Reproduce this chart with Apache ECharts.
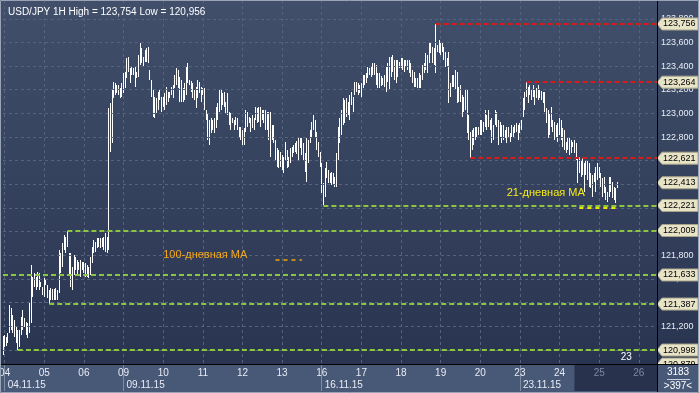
<!DOCTYPE html>
<html><head><meta charset="utf-8">
<script src="https://cdn.jsdelivr.net/npm/echarts@6/dist/echarts.min.js"></script>
<style>html,body{margin:0;padding:0;background:#34415e;}#c{width:699px;height:393px;}</style>
</head><body><div id="c"></div>
<script>
const titleText = 'USD/JPY 1H High = 123,754 Low = 120,956';
const dayLabels = ['04','05','06','09','10','11','12','13','16','17','18','19','20','23','24','25','26'];
const futureDays = ['25','26'];
const weekStartDays = ['04','09','16','23'];
const weekLabels = ['04.11.15','09.11.15','16.11.15','23.11.15'];
const footerTop = '3183';
const footerBottom = '>397<';
const visibleBars = 397;

const high = [
121.120,121.125,121.111,121.139,121.379,121.351,121.294,121.252,121.196,121.167,
121.167,121.280,121.337,121.266,121.238,121.224,121.407,121.717,121.619,121.647,
121.619,121.661,121.647,121.576,121.534,121.605,121.590,121.548,121.506,121.520,
121.511,121.511,121.520,121.506,121.845,121.816,121.901,121.971,121.957,122.009,
121.816,121.816,121.703,121.802,121.788,121.760,121.745,121.760,121.745,121.745,
121.731,121.717,121.703,121.788,121.872,121.929,121.915,121.943,121.943,121.943,
121.943,121.957,121.985,121.957,123.043,123.086,123.200,123.269,123.255,123.241,
123.241,123.213,123.255,123.340,123.354,123.466,123.480,123.382,123.396,123.382,
123.396,123.354,123.494,123.593,123.551,123.480,123.537,123.551,123.565,123.368,
123.283,123.198,123.142,123.128,123.184,123.198,123.142,123.142,123.170,123.227,
123.184,123.184,123.227,123.241,123.325,123.382,123.368,123.311,123.283,123.213,
123.255,123.396,123.424,123.283,123.270,123.255,123.198,123.227,123.283,123.269,
123.227,123.213,123.213,123.029,123.001,122.945,122.959,122.945,122.959,123.057,
123.086,123.198,123.198,123.170,123.184,123.100,123.170,123.015,123.001,122.959,
122.945,122.973,122.959,122.888,122.888,122.860,122.874,123.029,123.015,122.973,
122.959,122.987,122.959,123.057,123.043,123.057,123.057,123.029,123.029,123.029,
123.015,123.015,123.015,122.902,122.902,122.775,122.705,122.691,122.677,122.648,
122.634,122.761,122.691,122.634,122.705,122.719,122.733,122.747,122.770,122.790,
122.790,122.790,122.747,122.662,122.790,122.775,122.860,122.930,122.987,122.944,
122.846,122.761,122.676,122.577,122.408,122.535,122.592,122.521,122.493,122.507,
122.493,122.465,122.662,122.888,122.958,123.029,123.127,123.113,123.127,123.099,
123.156,123.184,123.141,123.268,123.268,123.254,123.240,123.254,123.325,123.325,
123.339,123.395,123.381,123.395,123.423,123.423,123.409,123.339,123.339,123.320,
123.296,123.325,123.395,123.423,123.480,123.480,123.494,123.452,123.452,123.452,
123.437,123.466,123.466,123.452,123.452,123.452,123.452,123.423,123.367,123.353,
123.296,123.296,123.339,123.325,123.409,123.423,123.508,123.494,123.607,123.607,
123.564,123.550,123.756,123.578,123.621,123.593,123.593,123.564,123.522,123.466,
123.522,123.254,123.325,123.325,123.367,123.353,123.226,123.240,123.156,123.141,
123.198,123.198,122.986,122.845,122.859,122.873,122.888,122.888,122.888,122.944,
122.944,122.930,123.029,122.987,123.029,122.944,122.958,122.902,123.029,123.015,
122.944,122.930,122.902,122.902,122.860,122.888,122.888,122.832,122.902,122.888,
122.902,122.916,122.902,122.916,122.944,123.128,123.184,123.264,123.226,123.241,
123.198,123.241,123.198,123.212,123.241,123.198,123.190,123.184,123.184,123.043,
123.029,123.001,123.057,122.944,122.930,122.902,122.916,122.958,122.944,122.874,
122.860,122.761,122.803,122.789,122.775,122.761,122.775,122.747,122.620,122.634,
122.606,122.620,122.578,122.606,122.606,122.578,122.493,122.479,122.493,122.550,
122.578,122.550,122.493,122.451,122.465,122.380,122.338,122.465,122.465,122.423,
122.380,122.366,122.423
];
const low = [
120.956,121.026,121.032,121.060,121.139,121.167,121.139,121.111,121.055,120.998,
121.026,121.125,121.167,121.196,121.125,121.097,121.139,121.224,121.449,121.534,
121.506,121.534,121.506,121.534,121.464,121.449,121.548,121.435,121.387,121.421,
121.421,121.421,121.421,121.421,121.480,121.647,121.703,121.844,121.816,121.872,
121.633,121.534,121.506,121.633,121.675,121.633,121.675,121.619,121.675,121.647,
121.619,121.619,121.605,121.633,121.731,121.816,121.830,121.858,121.872,121.858,
121.872,121.844,121.830,121.816,121.845,122.677,122.750,123.128,123.156,123.170,
123.156,123.128,123.142,123.170,123.213,123.297,123.353,123.255,123.325,123.325,
123.227,123.297,123.311,123.410,123.424,123.396,123.438,123.438,123.424,123.283,
123.142,122.973,122.959,123.001,123.029,123.114,123.015,123.057,123.029,123.071,
123.100,123.128,123.156,123.128,123.213,123.241,123.213,123.100,123.100,123.100,
123.114,123.156,123.255,123.241,123.180,123.128,123.114,123.043,123.128,123.170,
123.100,123.156,123.029,122.945,122.775,122.733,122.832,122.860,122.832,122.874,
122.945,123.015,123.029,123.071,123.057,123.001,122.987,122.902,122.860,122.916,
122.860,122.902,122.860,122.804,122.775,122.733,122.733,122.846,122.888,122.916,
122.846,122.874,122.860,122.945,122.916,122.931,122.888,122.945,122.916,122.860,
122.860,122.775,122.634,122.775,122.747,122.606,122.550,122.536,122.550,122.521,
122.493,122.606,122.536,122.550,122.578,122.634,122.662,122.677,122.660,122.606,
122.705,122.648,122.606,122.507,122.423,122.578,122.747,122.803,122.860,122.789,
122.691,122.634,122.549,122.324,122.221,122.295,122.451,122.408,122.408,122.394,
122.394,122.380,122.380,122.606,122.747,122.817,122.902,122.916,122.972,122.986,
122.944,123.071,123.014,123.156,123.184,123.156,123.170,123.141,123.212,123.240,
123.254,123.297,123.325,123.311,123.325,123.325,123.240,123.212,123.212,123.230,
123.240,123.226,123.184,123.268,123.198,123.311,123.353,123.282,123.254,123.311,
123.381,123.381,123.367,123.353,123.395,123.367,123.339,123.311,123.254,123.226,
123.226,123.212,123.212,123.212,123.282,123.339,123.367,123.339,123.423,123.508,
123.423,123.409,123.339,123.522,123.508,123.494,123.522,123.452,123.395,123.395,
123.085,123.141,123.226,123.226,123.198,123.085,123.099,123.099,122.972,123.014,
123.029,122.831,122.775,122.621,122.690,122.732,122.775,122.803,122.817,122.818,
122.818,122.846,122.888,122.860,122.888,122.860,122.747,122.775,122.902,122.888,
122.733,122.803,122.747,122.775,122.789,122.747,122.789,122.761,122.803,122.803,
122.832,122.846,122.775,122.832,122.860,122.973,123.029,123.142,123.085,123.156,
123.114,123.142,123.071,123.128,123.114,123.128,123.110,123.085,123.015,122.916,
122.789,122.818,122.888,122.846,122.775,122.803,122.761,122.818,122.775,122.719,
122.691,122.662,122.691,122.648,122.662,122.719,122.662,122.606,122.409,122.493,
122.465,122.479,122.338,122.479,122.437,122.380,122.366,122.296,122.423,122.338,
122.437,122.451,122.380,122.296,122.324,122.268,122.254,122.296,122.338,122.282,
122.268,122.240,122.366
];
if (high.length !== low.length) throw new Error('length mismatch ' + high.length + ' ' + low.length);

const priceTicks = [121.0,121.2,121.4,121.6,121.8,122.0,122.2,122.4,122.6,122.8,123.0,123.2,123.4,123.6,123.8];
const yMin = 120.880, yMax = 123.959;
const redLevels = [123.756, 123.264, 122.621];
const redFrom = [262, 317, 283];
const greenLevels = [122.221, 122.009, 121.633, 121.387, 120.998];
const greenFrom = [194, 39, 0, 28, 9];
const tagValues = [123.756, 123.264, 122.621, 122.413, 122.221, 122.009, 121.633, 121.387, 120.998, 120.879];
const ma21 = [122.198, 349, 372];
const ma100 = [121.760, 165, 181];
const ma21Text = '21-дневная MA';
const ma100Text = '100-дневная MA';
const markerText = '23';

const FONT = '"Liberation Sans", Arial, sans-serif';
const fmt = v => v.toFixed(3).replace('.', ',');

const categories = ['03 23:00'];
for (const d of dayLabels) for (let h = 0; h < 24; h++) {
  if (categories.length < visibleBars) categories.push(d + ' ' + String(h).padStart(2, '0') + ':00');
}
const catOf = (i, v) => (typeof v === 'string' ? v : categories[i]);
const isDayStart = (i, v) => catOf(i, v).endsWith(' 00:00');
const isWeekStart = (i, v) => { const c = catOf(i, v); return c.endsWith(' 00:00') && weekStartDays.includes(c.slice(0, 2)); };

const bars = high.map((h, i) => [i, low[i], h]);

const chart = echarts.init(document.getElementById('c'), null, {renderer: 'canvas'});
const option = {
  animation: false,
  backgroundColor: {type: 'linear', x: 0, y: 0, x2: 0, y2: 1,
    colorStops: [{offset: 0, color: '#414f6b'}, {offset: 1, color: '#27324e'}]},
  title: {text: titleText, left: 3, top: 2, textStyle: {color: '#ffffff', fontSize: 10, fontWeight: 'normal', fontFamily: FONT}},
  grid: {left: 3, right: 42, top: 0, bottom: 29, containLabel: false, outerBoundsMode: 'none'},
  xAxis: [
    {type: 'category', position: 'bottom', data: categories, boundaryGap: false, z: 12,
     axisLine: {show: true, lineStyle: {color: '#000000', width: 1}},
     axisTick: {show: false}, splitLine: {show: false},
     axisLabel: {interval: isDayStart, formatter: v => v.slice(0, 2), fontSize: 10, fontFamily: FONT, margin: 4,
       color: v => futureDays.includes(String(v).slice(0, 2)) ? '#7d899f' : '#e8ecf4'}},
    {type: 'category', position: 'bottom', data: categories, boundaryGap: false, z: 12,
     axisLine: {show: false},
     axisTick: {show: true, interval: isWeekStart, length: 27, lineStyle: {color: '#7f8ca6'}},
     splitLine: {show: false},
     axisLabel: {interval: isWeekStart, align: 'left', margin: 16, fontSize: 10, fontFamily: FONT, color: '#e8ecf4', padding: [0, 0, 0, 3],
       formatter: v => weekLabels[weekStartDays.indexOf(v.slice(0, 2))]}},
    {type: 'category', position: 'bottom', data: categories, boundaryGap: false, z: 0,
     axisLine: {show: false}, axisTick: {show: false}, axisLabel: {show: false},
     splitLine: {show: true, interval: isDayStart, lineStyle: {color: '#56637e', type: [3, 3], width: 1}}}
  ],
  yAxis: {type: 'value', position: 'right', min: yMin, max: yMax, z: 13,
    axisLine: {show: true, lineStyle: {color: '#000000'}}, axisTick: {show: false},
    axisLabel: {show: false}, splitLine: {show: false}},
  series: [
    {type: 'line', data: [], z: 1, silent: true,
     markLine: {silent: true, symbol: ['none', 'none'], animation: false,
       lineStyle: {color: '#56637e', type: [3, 3], width: 1},
       label: {show: true, position: 'end', distance: 4, formatter: p => fmt(p.value), color: '#e9edf5', fontSize: 9, fontFamily: FONT},
       data: priceTicks.map(v => ({yAxis: v}))}},
    {type: 'custom', z: 3, clip: true, data: bars, encode: {x: 0, y: [1, 2]},
     renderItem: (params, api) => {
       const i = api.value(0);
       const a = api.coord([i, api.value(2)]);
       const b = api.coord([i, api.value(1)]);
       const x = Math.round(a[0] - 0.5);
       return {type: 'rect', shape: {x: x, y: Math.round(a[1]), width: 1, height: Math.max(1, Math.round(b[1]) - Math.round(a[1]))},
         style: {fill: '#ffffff'}};
     }},
    {type: 'line', data: [], z: 4, silent: true,
     markLine: {silent: true, symbol: ['none', 'none'], animation: false, label: {show: false},
       data: [
         ...redLevels.map((v, k) => [{coord: [redFrom[k], v], lineStyle: {color: '#d21c1c', width: 2, type: [5, 3]}}, {coord: [visibleBars - 1, v]}]),
         ...greenLevels.map((v, k) => [{coord: [greenFrom[k], v], lineStyle: {color: '#8cc63f', width: 2, type: [5, 3]}}, {coord: [visibleBars - 1, v]}]),
         [{coord: [ma21[1], ma21[0]], lineStyle: {color: '#f2e600', width: 2, type: [4, 4]}}, {coord: [ma21[2], ma21[0]]}],
         [{coord: [ma100[1], ma100[0]], lineStyle: {color: '#f2a400', width: 1.5, type: [4, 4]}}, {coord: [ma100[2], ma100[0]]}]
       ]}}
  ]
};
chart.setOption(option);

const P = (i, v) => chart.convertToPixel({xAxisIndex: 0, yAxisIndex: 0}, [i, v]);
const br = P(visibleBars - 1, yMin);
const gx1 = br[0], gy1 = br[1];
const W = 699, H = 393;
const futureX = P(346, yMin)[0];
const g = [];
tagValues.forEach(v => {
  const y = P(0, v)[1];
  g.push({type: 'polygon', z: 10, shape: {points: [[gx1, y], [gx1 + 5, y - 6], [W - 1, y - 6], [W - 1, y + 6], [gx1 + 5, y + 6]]},
    style: {fill: '#e7e4c8', stroke: '#a9a58c', lineWidth: 1}});
  g.push({type: 'text', z: 10, x: gx1 + 6, y: y, style: {text: fmt(v), fill: '#000000', fontSize: 9, fontFamily: FONT, verticalAlign: 'middle'}});
});
g.push({type: 'rect', z: 11, shape: {x: 0, y: gy1, width: W, height: H - gy1}, style: {fill: '#485877'}});
g.push({type: 'rect', z: 11, shape: {x: futureX, y: gy1 + 1, width: gx1 - futureX, height: H - gy1 - 3}, style: {fill: '#28324d'}});
g.push({type: 'line', z: 13, shape: {x1: gx1 + 0.5, y1: 0, x2: gx1 + 0.5, y2: H}, style: {stroke: '#000000', lineWidth: 1}});
g.push({type: 'line', z: 13, shape: {x1: 0, y1: gy1 + 0.5, x2: W, y2: gy1 + 0.5}, style: {stroke: '#000000', lineWidth: 1}});
g.push({type: 'text', z: 13, x: (gx1 + W) / 2, y: gy1 + 8, style: {text: footerTop, fill: '#ffffff', fontSize: 10, fontFamily: FONT, align: 'center', verticalAlign: 'middle'}});
g.push({type: 'line', z: 13, shape: {x1: gx1 + 10, y1: gy1 + 15.5, x2: W - 9, y2: gy1 + 15.5}, style: {stroke: '#c8cedb', lineWidth: 1}});
g.push({type: 'text', z: 13, x: (gx1 + W) / 2, y: gy1 + 22, style: {text: footerBottom, fill: '#ffffff', fontSize: 10, fontFamily: FONT, align: 'center', verticalAlign: 'middle'}});
g.push({type: 'rect', z: 14, shape: {x: 0.5, y: 0.5, width: W - 1, height: H - 1}, style: {fill: 'none', stroke: '#9aa3b5', lineWidth: 1}});
const a21 = P(305, 122.327);
g.push({type: 'text', z: 5, x: a21[0], y: a21[1], style: {text: ma21Text, fill: '#f5ea1c', fontSize: 11, fontFamily: FONT, verticalAlign: 'middle'}});
const a100 = P(97, 121.802);
g.push({type: 'text', z: 5, x: a100[0], y: a100[1], style: {text: ma100Text, fill: '#f5a91c', fontSize: 11, fontFamily: FONT, verticalAlign: 'middle'}});
const m23 = P(374, 120.935);
g.push({type: 'text', z: 5, x: m23[0], y: m23[1], style: {text: markerText, fill: '#ffffff', fontSize: 10, fontFamily: FONT, verticalAlign: 'middle'}});
chart.setOption({graphic: g});
</script>
</body></html>
